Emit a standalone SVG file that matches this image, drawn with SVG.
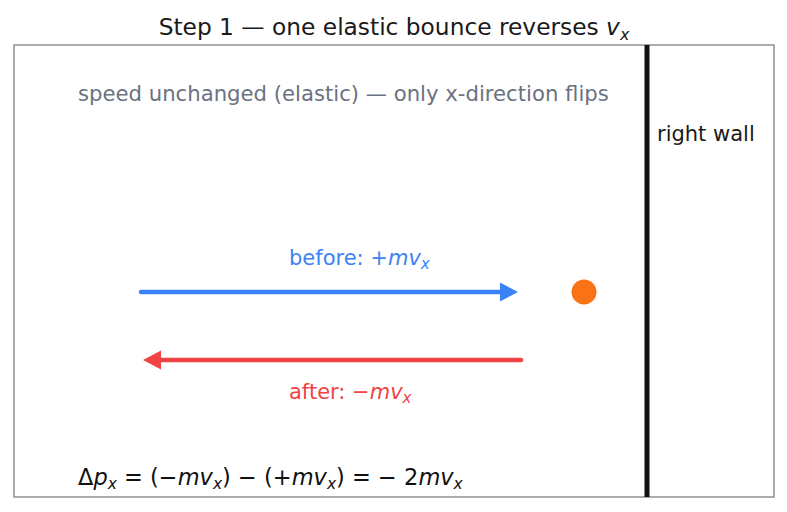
<svg xmlns="http://www.w3.org/2000/svg" width="787" height="512" viewBox="0 0 787 512">
<style>
text{font-family:"DejaVu Sans","Liberation Sans",sans-serif}
.t{font-size:23.3px;fill:#1a1a1a}
.sub{font-size:21.2px;fill:#6b7280}
.lb{font-size:21px}
.i{font-style:italic}
.s{font-size:15px}
</style>
<defs>
<marker id="ab" markerWidth="5" markerHeight="5" refX="2" refY="2.5" orient="auto" markerUnits="strokeWidth"><path d="M0,0.4 L4,2.5 L0,4.6 Z" fill="#3b82f6"/></marker>
<marker id="ar" markerWidth="5" markerHeight="5" refX="2" refY="2.5" orient="auto" markerUnits="strokeWidth"><path d="M0,0.4 L4,2.5 L0,4.6 Z" fill="#ef4444"/></marker>
</defs>
<rect width="787" height="512" fill="#fff"/>
<text class="t" x="394" y="35" text-anchor="middle">Step 1 — one elastic bounce reverses <tspan class="i">v</tspan><tspan class="i" style="font-size:16px" dy="5">x</tspan></text>
<rect x="14" y="45" width="760" height="452" fill="none" stroke="#808080" stroke-width="1.3"/>
<g id="wall"><line x1="647" y1="45" x2="647" y2="497" stroke="#111" stroke-width="5"/><text class="lb" x="657" y="141" fill="#1a1a1a">right wall</text></g>
<text class="sub" x="78" y="101">speed unchanged (elastic) — only x-direction flips</text>
<g id="ball"><circle cx="584" cy="292" r="12.5" fill="#f97316"/></g>
<g id="connectors">
<line x1="141" y1="292" x2="509" y2="292" stroke="#3b82f6" stroke-width="4.5" stroke-linecap="round" marker-end="url(#ab)"/>
<line x1="521" y1="360" x2="152" y2="360" stroke="#ef4444" stroke-width="4.5" stroke-linecap="round" marker-end="url(#ar)"/>
</g>
<text class="lb" x="289" y="265" fill="#3b82f6">before: +<tspan class="i">mv</tspan><tspan class="i s" dy="4">x</tspan></text>
<text class="lb" x="289" y="399" fill="#ef4444">after: −<tspan class="i">mv</tspan><tspan class="i s" dy="4">x</tspan></text>
<text x="78" y="485" style="font-size:22.5px" fill="#111">Δ<tspan class="i">p</tspan><tspan class="i" style="font-size:15.5px" dy="4">x</tspan><tspan dy="-4"> = (−</tspan><tspan class="i">mv</tspan><tspan class="i" style="font-size:15.5px" dy="4">x</tspan><tspan dy="-4">) − (+</tspan><tspan class="i">mv</tspan><tspan class="i" style="font-size:15.5px" dy="4">x</tspan><tspan dy="-4">) =  − 2</tspan><tspan class="i">mv</tspan><tspan class="i" style="font-size:15.5px" dy="4">x</tspan></text>
</svg>
